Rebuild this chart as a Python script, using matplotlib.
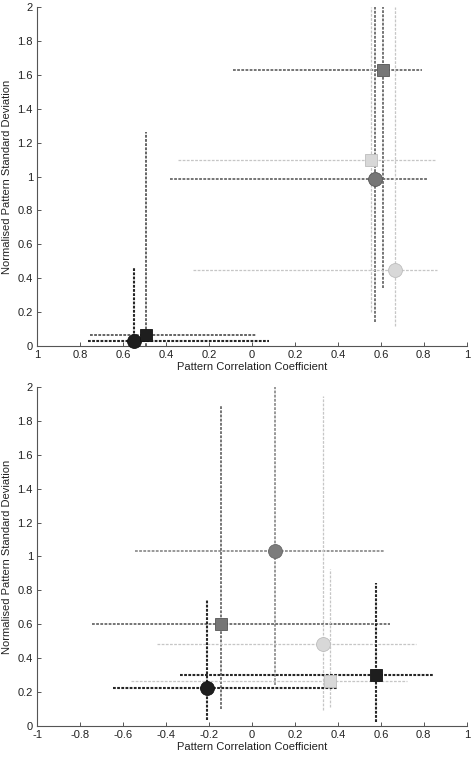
import matplotlib
matplotlib.use("Agg")
import matplotlib.pyplot as plt
import numpy as np

plt.rcParams['font.family'] = ['Liberation Sans', 'DejaVu Sans']
plt.rcParams['lines.scale_dashes'] = False

# ---- data: top panel ----
top_x = [0.612, 0.555, 0.573, 0.667, -0.548, -0.493]
top_y = [1.626, 1.098, 0.985, 0.447, 0.030, 0.063]
top_xlo = [-0.086, -0.342, -0.381, -0.275, -0.761, -0.753]
top_xhi = [0.790, 0.853, 0.818, 0.861, 0.081, 0.019]
top_ylo = [0.345, 0.200, 0.142, 0.116, 0.000, 0.000]
top_yhi = [2.000, 2.000, 2.000, 2.000, 0.467, 1.261]
top_marker = ['s', 's', 'o', 'o', 'o', 's']
top_tone = ['dark', 'light', 'dark', 'light', 'black', 'blackthin']

# ---- data: bottom panel ----
bot_x = [0.109, -0.145, 0.330, 0.364, 0.576, -0.210]
bot_y = [1.033, 0.599, 0.483, 0.266, 0.300, 0.227]
bot_xlo = [-0.544, -0.742, -0.443, -0.562, -0.334, -0.645]
bot_xhi = [0.620, 0.643, 0.764, 0.724, 0.842, 0.403]
bot_ylo = [0.240, 0.102, 0.093, 0.112, 0.024, 0.037]
bot_yhi = [2.000, 1.896, 1.945, 0.926, 0.841, 0.743]
bot_marker = ['o', 's', 'o', 's', 's', 'o']
bot_tone = ['mid', 'dark', 'light', 'light', 'black', 'black']

xticks = [-1, -0.8, -0.6, -0.4, -0.2, 0, 0.2, 0.4, 0.6, 0.8, 1]
top_xticklabels = ['1', '0.8', '0.6', '0.4', '0.2', '0', '0.2', '0.4', '0.6', '0.8', '1']
bot_xticklabels = ['-1', '-0.8', '-0.6', '-0.4', '-0.2', '0', '0.2', '0.4', '0.6', '0.8', '1']
yticks = [0, 0.2, 0.4, 0.6, 0.8, 1, 1.2, 1.4, 1.6, 1.8, 2]
yticklabels = ['0', '0.2', '0.4', '0.6', '0.8', '1', '1.2', '1.4', '1.6', '1.8', '2']

styles = {
    'black': dict(line='#262626', face='#1e1e1e', edge='#111111', lw=1.5),
    'blackthin': dict(line='#3a3a3a', face='#1e1e1e', edge='#111111', lw=1.1),
    'dark': dict(line='#6a6a6a', face='#767676', edge='#555555', lw=1.3),
    'mid': dict(line='#7c7c7c', face='#7c7c7c', edge='#666666', lw=1.1),
    'light': dict(line='#c6c6c6', face='#d8d8d8', edge='#bdbdbd', lw=0.9),
}
dash = (0, (2.0, 1.0))

fig = plt.figure(figsize=(4.71, 7.59), dpi=100)
ax1 = fig.add_axes([0.0786, 0.5441, 0.9124, 0.4467])
ax2 = fig.add_axes([0.0786, 0.0435, 0.9124, 0.4466])

def draw(ax, x, y, xlo, xhi, ylo, yhi, markers, tones, xtl):
    for i in range(len(x)):
        s = styles[tones[i]]
        ax.hlines(y[i], xlo[i], xhi[i], colors=s['line'], linewidth=s['lw'],
                  linestyles=dash, zorder=2)
        ax.vlines(x[i], ylo[i], yhi[i], colors=s['line'], linewidth=s['lw'],
                  linestyles=dash, zorder=2)
    for i in range(len(x)):
        s = styles[tones[i]]
        ms = 10 if markers[i] == 'o' else 8
        ax.plot(x[i], y[i], marker=markers[i], markersize=ms, color=s['face'],
                markeredgecolor=s['edge'], markeredgewidth=0.6, linestyle='none',
                zorder=3, clip_on=False)
    ax.set_xlim(-1, 1)
    ax.set_ylim(0, 2)
    ax.set_xticks(xticks)
    ax.set_xticklabels(xtl)
    ax.set_yticks(yticks)
    ax.set_yticklabels(yticklabels)
    for sp in ['top', 'right']:
        ax.spines[sp].set_visible(False)
    for sp in ['left', 'bottom']:
        ax.spines[sp].set_color('#555555')
        ax.spines[sp].set_linewidth(0.8)
    ax.tick_params(direction='in', length=3, width=0.7, color='#555555',
                   labelsize=8, labelcolor='#222222', pad=3)
    ax.set_xlabel('Pattern Correlation Coefficient', fontsize=8, color='#222222', labelpad=1)
    ax.set_ylabel('Normalised Pattern Standard Deviation', fontsize=8, color='#222222', labelpad=4)

draw(ax1, top_x, top_y, top_xlo, top_xhi, top_ylo, top_yhi, top_marker, top_tone, top_xticklabels)
draw(ax2, bot_x, bot_y, bot_xlo, bot_xhi, bot_ylo, bot_yhi, bot_marker, bot_tone, bot_xticklabels)

fig.savefig('out.png', dpi=100)
